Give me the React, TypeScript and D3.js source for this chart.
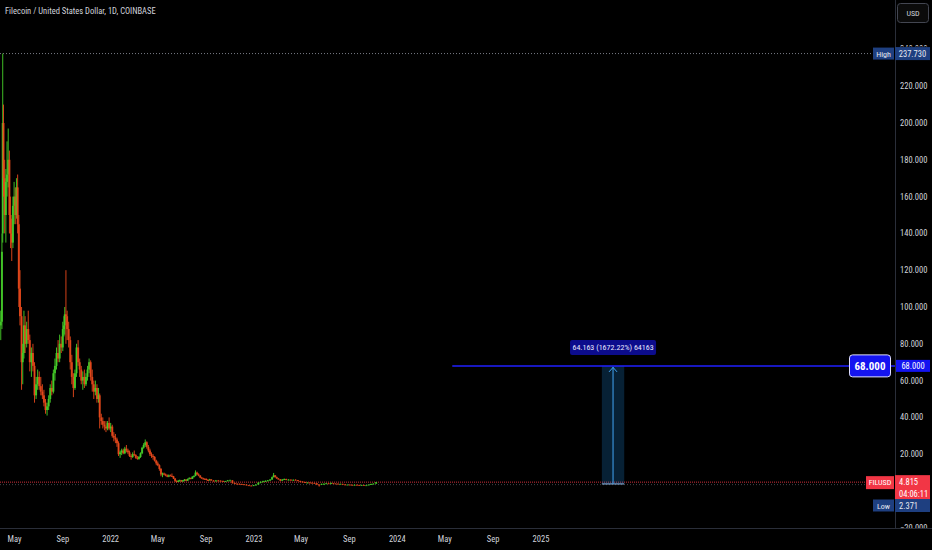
import * as d3 from 'd3';

type Row = [string, number, number, number, number]; // date, open, high, low, close

// FIL/USD candles (roughly every few days)
const rows2021: Row[] = [
    ["2021-03-27", 90, 98, 82, 92],
    ["2021-03-30", 92, 140, 88, 130],
    ["2021-04-01", 140, 237.73, 135, 200],
    ["2021-04-03", 200, 210, 160, 170],
    ["2021-04-06", 170, 180, 140, 150],
    ["2021-04-09", 150, 175, 135, 168],
    ["2021-04-12", 168, 190, 160, 172],
    ["2021-04-15", 172, 197, 165, 180],
    ["2021-04-18", 180, 185, 140, 150],
    ["2021-04-21", 150, 160, 132, 140],
    ["2021-04-24", 140, 148, 125, 135],
    ["2021-04-27", 135, 160, 132, 155],
    ["2021-04-30", 155, 168, 145, 160],
    ["2021-05-03", 160, 165, 145, 150],
    ["2021-05-06", 150, 170, 148, 165],
    ["2021-05-09", 165, 172, 140, 145],
    ["2021-05-12", 145, 150, 100, 110],
    ["2021-05-15", 110, 120, 90, 95],
    ["2021-05-19", 95, 100, 55, 70],
    ["2021-05-22", 70, 80, 58, 75],
    ["2021-05-25", 75, 98, 72, 90],
    ["2021-05-28", 90, 95, 75, 80],
    ["2021-06-01", 80, 92, 78, 88],
    ["2021-06-05", 88, 98, 80, 82],
    ["2021-06-09", 82, 85, 65, 70],
    ["2021-06-13", 70, 78, 62, 75],
    ["2021-06-17", 75, 80, 65, 68],
    ["2021-06-21", 68, 70, 48, 52],
    ["2021-06-25", 52, 62, 50, 58],
    ["2021-06-29", 58, 66, 55, 62],
    ["2021-07-03", 62, 65, 55, 57],
    ["2021-07-07", 57, 62, 52, 54],
    ["2021-07-11", 54, 58, 50, 52],
    ["2021-07-15", 52, 55, 46, 48],
    ["2021-07-19", 48, 50, 42, 44],
    ["2021-07-23", 44, 48, 41, 46],
    ["2021-07-27", 46, 52, 44, 50],
    ["2021-07-31", 50, 58, 48, 56],
    ["2021-08-04", 56, 60, 52, 54],
    ["2021-08-08", 54, 66, 53, 64],
    ["2021-08-12", 64, 72, 60, 68],
    ["2021-08-16", 68, 78, 66, 75],
    ["2021-08-20", 75, 82, 70, 72],
    ["2021-08-24", 72, 85, 70, 80],
    ["2021-08-28", 80, 84, 75, 78],
    ["2021-09-01", 78, 92, 76, 88],
    ["2021-09-04", 88, 95, 84, 90],
    ["2021-09-06", 90, 100, 85, 96],
    ["2021-09-09", 96, 120, 80, 95],
    ["2021-09-12", 95, 98, 82, 88],
    ["2021-09-16", 88, 92, 78, 82],
    ["2021-09-20", 82, 84, 66, 70],
    ["2021-09-24", 70, 74, 58, 62],
    ["2021-09-28", 62, 64, 51, 56],
    ["2021-10-02", 56, 66, 55, 64],
    ["2021-10-06", 64, 80, 62, 78],
    ["2021-10-10", 78, 82, 68, 70],
    ["2021-10-14", 70, 72, 62, 66],
    ["2021-10-18", 66, 68, 58, 60],
    ["2021-10-22", 60, 65, 55, 62],
    ["2021-10-26", 62, 66, 56, 58],
    ["2021-10-30", 58, 64, 57, 62],
    ["2021-11-03", 62, 68, 60, 66],
    ["2021-11-07", 66, 72, 64, 70],
    ["2021-11-11", 70, 71, 60, 62],
    ["2021-11-15", 62, 66, 54, 58],
    ["2021-11-19", 58, 60, 50, 54],
    ["2021-11-23", 54, 60, 52, 56],
    ["2021-11-27", 56, 58, 48, 50],
    ["2021-12-01", 50, 56, 48, 52],
    ["2021-12-04", 52, 53, 34, 40],
    ["2021-12-08", 40, 42, 36, 38],
    ["2021-12-12", 38, 40, 34, 36],
    ["2021-12-16", 36, 38, 33, 35],
    ["2021-12-20", 35, 38, 32, 34],
    ["2021-12-24", 34, 38, 33, 37],
    ["2021-12-28", 37, 40, 33, 34],
];

const rows2022: Row[] = [
    ["2022-01-01", 34, 37, 32, 35],
    ["2022-01-05", 35, 36, 29, 30],
    ["2022-01-09", 30, 32, 27, 29],
    ["2022-01-13", 29, 31, 26, 28],
    ["2022-01-17", 28, 29, 24, 26],
    ["2022-01-21", 26, 27, 19, 20],
    ["2022-01-25", 20, 22, 18, 21],
    ["2022-01-29", 21, 23, 19.5, 22],
    ["2022-02-02", 22, 23, 20, 20.5],
    ["2022-02-06", 20.5, 24, 20, 23],
    ["2022-02-10", 23, 25, 21, 22],
    ["2022-02-14", 22, 23, 20, 21],
    ["2022-02-18", 21, 22, 18.5, 19],
    ["2022-02-22", 19, 20, 17, 18.5],
    ["2022-02-26", 18.5, 21, 18, 20],
    ["2022-03-02", 20, 22, 19, 19.5],
    ["2022-03-06", 19.5, 20, 17.5, 18],
    ["2022-03-10", 18, 19, 17, 17.5],
    ["2022-03-14", 17.5, 19, 17, 18.5],
    ["2022-03-18", 18.5, 21, 18, 20.5],
    ["2022-03-22", 20.5, 24, 20, 23.5],
    ["2022-03-26", 23.5, 26, 23, 25],
    ["2022-03-30", 25, 28, 24, 26.5],
    ["2022-04-03", 26.5, 27, 23, 24],
    ["2022-04-07", 24, 25, 21, 22],
    ["2022-04-11", 22, 23, 19, 20],
    ["2022-04-15", 20, 21, 18, 19],
    ["2022-04-19", 19, 20, 17, 18.5],
    ["2022-04-23", 18.5, 19, 16, 16.5],
    ["2022-04-27", 16.5, 17, 14, 15],
    ["2022-05-01", 15, 16, 13.5, 14],
    ["2022-05-05", 14, 14.5, 11, 12],
    ["2022-05-09", 12, 12.5, 8, 9],
    ["2022-05-13", 9, 10, 7.5, 9.5],
    ["2022-05-17", 9.5, 10, 8.5, 9],
    ["2022-05-21", 9, 9.5, 8, 8.5],
    ["2022-05-25", 8.5, 9, 7.5, 7.8],
    ["2022-05-29", 7.8, 9, 7.5, 8.5],
    ["2022-06-02", 8.5, 9, 8, 8.2],
    ["2022-06-06", 8.2, 9.5, 7.8, 8],
    ["2022-06-10", 8, 8.2, 6.5, 6.8],
    ["2022-06-14", 6.8, 7, 5, 5.5],
    ["2022-06-18", 5.5, 5.8, 4.5, 5.2],
    ["2022-06-22", 5.2, 6, 5, 5.5],
    ["2022-06-26", 5.5, 6.2, 5.2, 5.8],
    ["2022-06-30", 5.8, 6, 5, 5.2],
    ["2022-07-04", 5.2, 6, 5, 5.8],
    ["2022-07-08", 5.8, 6.5, 5.5, 6.2],
    ["2022-07-12", 6.2, 6.4, 5.3, 5.6],
    ["2022-07-16", 5.6, 6.8, 5.5, 6.5],
    ["2022-07-20", 6.5, 7.5, 6.3, 7],
    ["2022-07-24", 7, 7.3, 6.4, 6.6],
    ["2022-07-28", 6.6, 8, 6.5, 7.8],
    ["2022-08-01", 7.8, 8.5, 7.3, 8.2],
    ["2022-08-05", 8.2, 11.2, 8, 10],
    ["2022-08-09", 10, 10.5, 8.6, 9],
    ["2022-08-13", 9, 9.6, 8, 8.4],
    ["2022-08-17", 8.4, 8.6, 7, 7.3],
    ["2022-08-21", 7.3, 7.6, 6.6, 6.8],
    ["2022-08-25", 6.8, 7.2, 6.4, 6.6],
    ["2022-08-29", 6.6, 7, 6.2, 6.5],
    ["2022-09-02", 6.5, 6.8, 5.8, 6],
    ["2022-09-06", 6, 6.3, 5.5, 5.8],
    ["2022-09-10", 5.8, 6.6, 5.7, 6.3],
    ["2022-09-14", 6.3, 6.5, 5.5, 5.7],
    ["2022-09-20", 5.7, 5.9, 5.2, 5.5],
    ["2022-09-26", 5.5, 6, 5.3, 5.7],
    ["2022-10-02", 5.7, 6, 5.4, 5.6],
    ["2022-10-08", 5.6, 5.8, 5.3, 5.5],
    ["2022-10-14", 5.5, 5.6, 5.1, 5.2],
    ["2022-10-20", 5.2, 5.5, 5.1, 5.4],
    ["2022-10-26", 5.4, 6, 5.3, 5.8],
    ["2022-11-01", 5.8, 6.2, 5.6, 5.8],
    ["2022-11-07", 5.8, 5.9, 4, 4.3],
    ["2022-11-13", 4.3, 4.6, 3.8, 4],
    ["2022-11-19", 4, 4.2, 3.7, 3.9],
    ["2022-11-25", 3.9, 4.1, 3.6, 3.8],
    ["2022-12-01", 3.8, 4, 3.6, 3.7],
    ["2022-12-07", 3.7, 3.8, 3.4, 3.5],
    ["2022-12-13", 3.5, 3.6, 3.1, 3.2],
    ["2022-12-19", 3.2, 3.3, 2.9, 3],
    ["2022-12-25", 3, 3.1, 2.8, 2.9],
    ["2022-12-31", 2.9, 3.3, 2.8, 3.2],
];

const rows2023: Row[] = [
    ["2023-01-06", 3.2, 3.6, 3.1, 3.5],
    ["2023-01-12", 3.5, 4.8, 3.4, 4.5],
    ["2023-01-18", 4.5, 5.2, 4.2, 5],
    ["2023-01-24", 5, 5.6, 4.8, 5.3],
    ["2023-01-30", 5.3, 5.8, 5, 5.5],
    ["2023-02-05", 5.5, 6, 5.3, 5.8],
    ["2023-02-11", 5.8, 6.5, 5.5, 6.2],
    ["2023-02-16", 6.2, 7.8, 6.1, 7.5],
    ["2023-02-20", 7.5, 9.8, 7.4, 8.5],
    ["2023-02-24", 8.5, 8.7, 7.3, 7.5],
    ["2023-02-28", 7.5, 7.8, 6.6, 6.8],
    ["2023-03-04", 6.8, 7, 6.2, 6.4],
    ["2023-03-09", 6.4, 6.5, 5.3, 5.6],
    ["2023-03-14", 5.6, 6.5, 5.5, 6.2],
    ["2023-03-19", 6.2, 6.8, 6, 6.5],
    ["2023-03-24", 6.5, 6.7, 5.8, 6],
    ["2023-03-30", 6, 6.4, 5.8, 6.2],
    ["2023-04-05", 6.2, 6.3, 5.6, 5.8],
    ["2023-04-11", 5.8, 6.3, 5.7, 6.1],
    ["2023-04-17", 6.1, 6.4, 5.8, 5.9],
    ["2023-04-23", 5.9, 6, 5.3, 5.4],
    ["2023-04-29", 5.4, 5.6, 5, 5.1],
    ["2023-05-05", 5.1, 5.3, 4.8, 4.9],
    ["2023-05-11", 4.9, 5, 4.4, 4.6],
    ["2023-05-17", 4.6, 4.8, 4.4, 4.6],
    ["2023-05-23", 4.6, 4.8, 4.4, 4.5],
    ["2023-05-29", 4.5, 4.7, 4.3, 4.4],
    ["2023-06-04", 4.4, 4.5, 4.1, 4.2],
    ["2023-06-10", 4.2, 4.3, 3.2, 3.5],
    ["2023-06-16", 3.5, 3.7, 2.371, 3.4],
    ["2023-06-22", 3.4, 4, 3.3, 3.9],
    ["2023-06-28", 3.9, 4.2, 3.7, 3.9],
    ["2023-07-04", 3.9, 4.4, 3.8, 4.2],
    ["2023-07-10", 4.2, 4.3, 3.9, 4],
    ["2023-07-16", 4, 4.6, 3.9, 4.3],
    ["2023-07-22", 4.3, 4.4, 4, 4.1],
    ["2023-07-28", 4.1, 4.2, 3.9, 4],
    ["2023-08-03", 4, 4.1, 3.8, 3.9],
    ["2023-08-09", 3.9, 4, 3.8, 3.9],
    ["2023-08-15", 3.9, 3.95, 3.5, 3.6],
    ["2023-08-21", 3.6, 3.7, 3.3, 3.4],
    ["2023-08-27", 3.4, 3.6, 3.4, 3.5],
    ["2023-09-02", 3.5, 3.6, 3.3, 3.4],
    ["2023-09-08", 3.4, 3.5, 3.1, 3.2],
    ["2023-09-14", 3.2, 3.5, 3.1, 3.4],
    ["2023-09-20", 3.4, 3.5, 3.2, 3.3],
    ["2023-09-26", 3.3, 3.4, 3.1, 3.2],
    ["2023-10-02", 3.2, 3.4, 3.1, 3.3],
    ["2023-10-08", 3.3, 3.4, 3.1, 3.2],
    ["2023-10-14", 3.2, 3.3, 3.1, 3.2],
    ["2023-10-20", 3.2, 3.6, 3.2, 3.5],
    ["2023-10-26", 3.5, 4, 3.4, 3.8],
    ["2023-11-01", 3.8, 4.2, 3.7, 4],
    ["2023-11-08", 4, 4.9, 3.9, 4.815],
];

const priceTicks = [-20, 0, 20, 40, 60, 80, 100, 120, 140, 160, 180, 200, 220, 240];
const timeTicks: [string, string][] = [
    ["2021-05-01", "May"], ["2021-09-01", "Sep"], ["2022-01-01", "2022"],
    ["2022-05-01", "May"], ["2022-09-01", "Sep"], ["2023-01-01", "2023"],
    ["2023-05-01", "May"], ["2023-09-01", "Sep"], ["2024-01-01", "2024"],
    ["2024-05-01", "May"], ["2024-09-01", "Sep"], ["2025-01-01", "2025"],
];

const lastPrice = 4.815;
const highPrice = 237.73;
const lowPrice = 2.371;
const targetPrice = 68;
const measureBase = 3.837;
const targetLineStart = "2024-05-20";
const measureDates = ["2025-06-05", "2025-08-01"];
const countdown = "04:06:11";

const W = 932, H = 550;
const paneRight = 895;
const paneBottom = 528;

const parse = d3.timeParse("%Y-%m-%d");
const fmt = d3.format(".3f");
const FONT = "'Liberation Sans Narrow', 'Roboto Condensed', Roboto, sans-serif";
const AXIS_TEXT = "#d1d4dc";
const UP = "#47d12a";
const DOWN = "#ea4a1c";
const TAG_BLUE = "#1e3f80";

const App = () => {
    const x = d3.scaleTime()
        .domain([parse("2021-05-01")!, parse("2025-01-01")!])
        .range([14.5, 541]);
    const y = d3.scaleLinear().domain([0, 220]).range([491, 86.2]);

    const candles = [...rows2021, ...rows2022, ...rows2023].map(r => ({
        date: parse(r[0])!, open: r[1], high: r[2], low: r[3], close: r[4]
    }));

    const yLast = y(lastPrice);
    const yTarget = y(targetPrice);
    const yBase = y(measureBase);
    const yHigh = y(highPrice);
    const mx0 = x(parse(measureDates[0])!);
    const mx1 = x(parse(measureDates[1])!);
    const mxc = (mx0 + mx1) / 2;
    const change = targetPrice - measureBase;
    const measureText = `${fmt(change)} (${(change / measureBase * 100).toFixed(2)}%) ${Math.round(change * 1000)}`;

    // axis labels that sit fully under the last-price tag are hidden, like the original
    const visibleTicks = priceTicks.filter(t => Math.abs(y(t) - (yLast + 6)) > 13);

    return (
        <svg width={W} height={H} style={{position: "fixed", left: 0, top: 0, background: "#000"}} fontFamily={FONT}>
            <defs>
                <clipPath id="pane"><rect x={0} y={0} width={paneRight} height={paneBottom} /></clipPath>
                <clipPath id="axis"><rect x={paneRight} y={0} width={W - paneRight} height={paneBottom} /></clipPath>
                <clipPath id="aboveHigh"><rect x={paneRight} y={0} width={W - paneRight} height={yHigh - 7} /></clipPath>
            </defs>
            <rect width={W} height={H} fill="#000" />

            <g clipPath="url(#pane)">
                {/* high marker line */}
                <line x1={0} x2={873} y1={yHigh} y2={yHigh} stroke="#787b86" strokeDasharray="1,2" strokeWidth={1} />
                {/* price lines */}
                <line x1={0} x2={866} y1={yLast + 2.5} y2={yLast + 2.5} stroke="#5d606b" strokeDasharray="1,2" strokeWidth={1} opacity={0.7} />
                <line x1={0} x2={866} y1={yLast} y2={yLast} stroke="#f23645" strokeDasharray="1,1" strokeWidth={1} opacity={0.85} />

                {candles.map((c, i) => {
                    const cx = x(c.date);
                    const col = c.close >= c.open ? UP : DOWN;
                    const top = y(Math.max(c.open, c.close));
                    const bot = y(Math.min(c.open, c.close));
                    return (
                        <g key={i}>
                            <line x1={cx} x2={cx} y1={y(c.high)} y2={y(c.low)} stroke={col} strokeWidth={1} opacity={0.9} />
                            <rect x={cx - 1} width={2} y={top} height={Math.max(1, bot - top)} fill={col} opacity={0.85} />
                        </g>
                    );
                })}

                {/* measure box */}
                <rect x={mx0} y={yTarget} width={mx1 - mx0} height={yBase - yTarget} fill="#2196f3" fillOpacity={0.22} />
                <line x1={mx0} x2={mx1} y1={yBase} y2={yBase} stroke="#8fb8e8" strokeWidth={1.5} opacity={0.7} />
                <line x1={mxc} x2={mxc} y1={yBase} y2={yTarget + 1} stroke="#42a5f5" strokeWidth={1} />
                <path d={`M${mxc - 4},${yTarget + 6} L${mxc},${yTarget + 1.5} L${mxc + 4},${yTarget + 6}`} fill="none" stroke="#42a5f5" strokeWidth={1} />

                {/* target line */}
                <line x1={x(parse(targetLineStart)!)} x2={paneRight} y1={yTarget} y2={yTarget} stroke="#1f1fff" strokeWidth={1.5} />

                <rect x={mxc - 43} y={yTarget - 26} width={86} height={15} rx={2} fill="#0c0c8c" />
                <text x={mxc} y={yTarget - 15.5} textAnchor="middle" fill="#e8e8ff" fontSize={8}>{measureText}</text>

                <rect x={849.5} y={yTarget - 11} width={41} height={22} rx={3} fill="#1414f0" stroke="#e0e0ff" strokeWidth={1} />
                <text x={870} y={yTarget + 4} textAnchor="middle" fill="#fff" fontSize={11} fontWeight="bold">{fmt(targetPrice)}</text>
            </g>

            {/* pane separators */}
            <line x1={paneRight + 0.5} x2={paneRight + 0.5} y1={0} y2={paneBottom} stroke="#2a2e39" />
            <line x1={0} x2={W} y1={paneBottom + 0.5} y2={paneBottom + 0.5} stroke="#2a2e39" />

            {/* price axis */}
            <g clipPath="url(#axis)">
                {visibleTicks.filter(t => y(t) > yHigh + 8).map(t => (
                    <text key={t} x={900} y={y(t) + 3} fill={AXIS_TEXT} fontSize={8.5}>{fmt(t)}</text>
                ))}
            </g>
            <g clipPath="url(#aboveHigh)">
                {visibleTicks.filter(t => y(t) <= yHigh + 8).map(t => (
                    <text key={t} x={900} y={y(t) + 3} fill={AXIS_TEXT} fontSize={8.5}>{fmt(t)}</text>
                ))}
            </g>

            {/* time axis */}
            {timeTicks.map(([d, label]) => (
                <text key={d} x={x(parse(d)!)} y={542} textAnchor="middle" fill={AXIS_TEXT} fontSize={8.5}>{label}</text>
            ))}

            {/* title */}
            <text x={5} y={14} fill={AXIS_TEXT} fontSize={8.5}>Filecoin / United States Dollar, 1D, COINBASE</text>

            {/* currency button */}
            <rect x={897.5} y={3.5} width={31} height={19} rx={3} fill="#0b0b0b" stroke="#434651" />
            <text x={913} y={16} textAnchor="middle" fill={AXIS_TEXT} fontSize={8}>USD</text>

            {/* High tag */}
            <rect x={873} y={yHigh - 6} width={21} height={12} fill={TAG_BLUE} />
            <text x={883.5} y={yHigh + 3} textAnchor="middle" fill="#e6e9f0" fontSize={8}>High</text>
            <rect x={895} y={yHigh - 6.5} width={35} height={13} fill={TAG_BLUE} />
            <text x={912.5} y={yHigh + 3} textAnchor="middle" fill="#e6e9f0" fontSize={8.5}>{fmt(highPrice)}</text>

            {/* target tag */}
            <rect x={896} y={yTarget - 6} width={34} height={12} fill="#1414f0" />
            <text x={913} y={yTarget + 3} textAnchor="middle" fill="#fff" fontSize={8.5}>{fmt(targetPrice)}</text>

            {/* last price tag */}
            <rect x={866} y={yLast - 6} width={28} height={13} fill="#f23645" />
            <text x={880} y={yLast + 3} textAnchor="middle" fill="#fff" fontSize={8}>FILUSD</text>
            <rect x={895} y={yLast - 7} width={35} height={26} fill="#f23645" />
            <text x={899} y={yLast + 3} fill="#fff" fontSize={8.5}>{fmt(lastPrice)}</text>
            <text x={899} y={yLast + 15} fill="#fff" fontSize={8.5}>{countdown}</text>

            {/* Low tag */}
            <rect x={873} y={499.5} width={21} height={12} fill={TAG_BLUE} />
            <text x={883.5} y={508.5} textAnchor="middle" fill="#e6e9f0" fontSize={8}>Low</text>
            <rect x={895} y={499} width={35} height={13} fill={TAG_BLUE} />
            <text x={899} y={508.5} fill="#e6e9f0" fontSize={8.5}>{fmt(lowPrice)}</text>
        </svg>
    );
};

export default App;
